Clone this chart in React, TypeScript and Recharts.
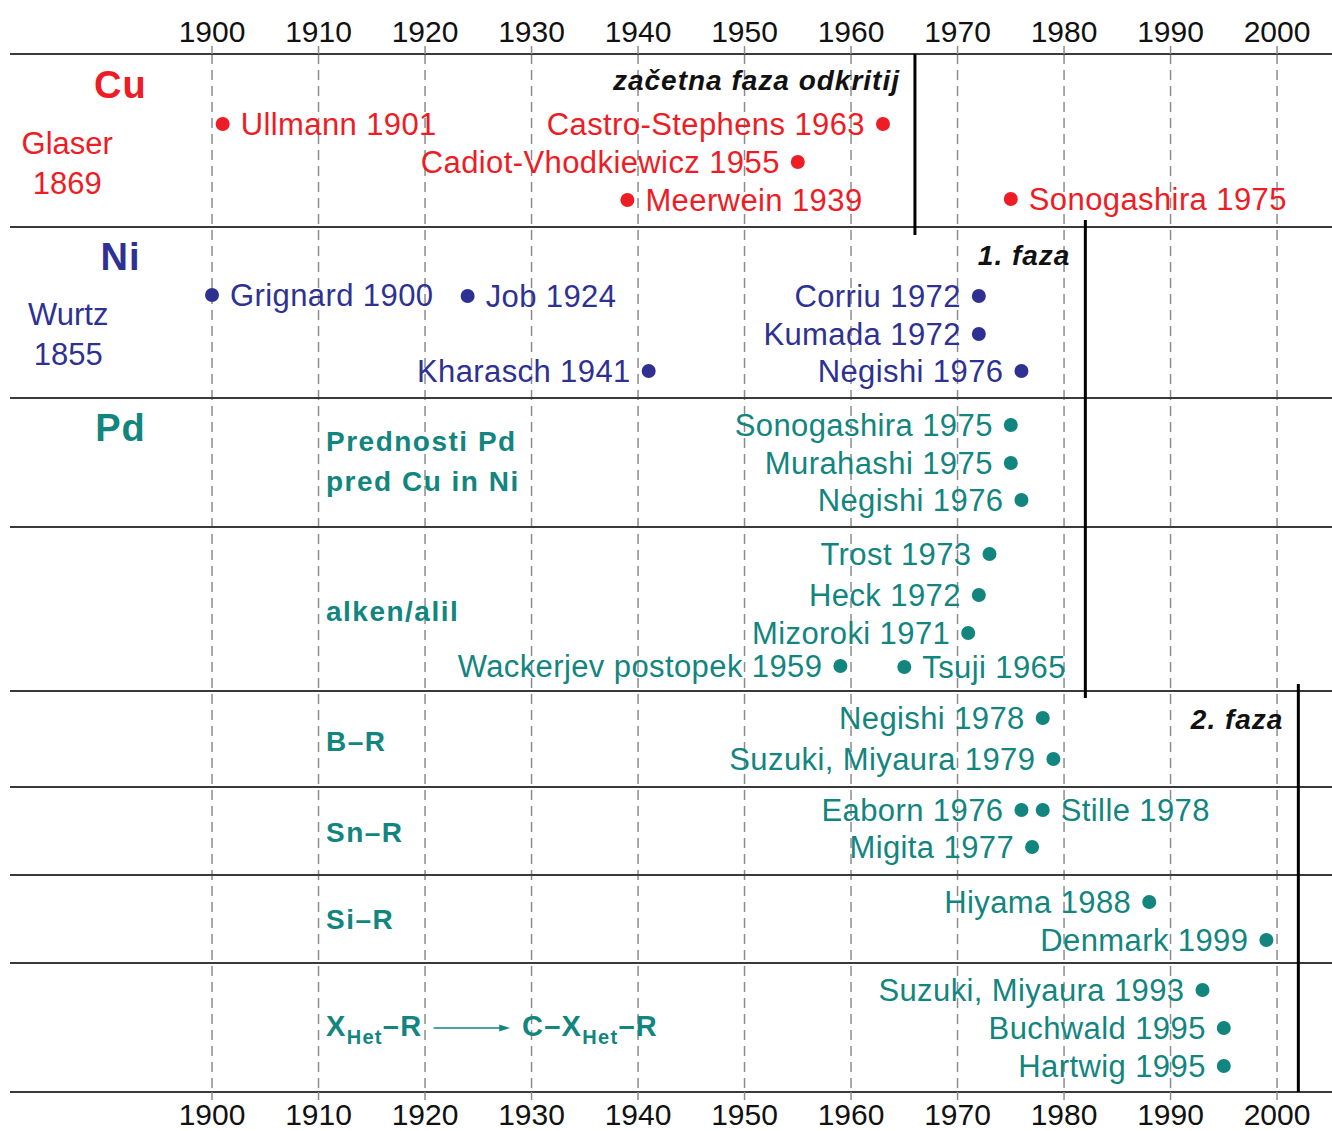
import React from 'react';
import { ScatterChart, Scatter, XAxis, YAxis, CartesianGrid, ReferenceLine } from 'recharts';

const FONT = '"Liberation Sans", Arial, Helvetica, sans-serif';
const RED = '#ee1c25';
const BLUE = '#2e3192';
const TEAL = '#12857f';
const INK = '#111111';

const YEAR_TICKS = [1900, 1910, 1920, 1930, 1940, 1950, 1960, 1970, 1980, 1990, 2000];
const X_DOMAIN = [1881.03, 2005.16];
const LANE_DOMAIN = [0, 1038];

// horizontal row separators (lane positions)
const ROW_BOUNDARIES = [0, 173, 344, 473, 637, 733, 821, 909, 1038];

// phase dividers: year, lane from, lane to
const PHASE_LINES = [
  { year: 1966, from: 0, to: 181 },
  { year: 1982, from: 166, to: 644 },
  { year: 2002, from: 630, to: 1038 },
];

type Side = 'left' | 'right';
type Ev = { name: string; year: number; lane: number; side: Side };

const cuEvents: Ev[] = [
  { name: 'Ullmann', year: 1901, lane: 70, side: 'right' },
  { name: 'Castro-Stephens', year: 1963, lane: 70, side: 'left' },
  { name: 'Cadiot-Vhodkiewicz', year: 1955, lane: 108, side: 'left' },
  { name: 'Meerwein', year: 1939, lane: 146, side: 'right' },
  { name: 'Sonogashira', year: 1975, lane: 145, side: 'right' },
];

const niEvents: Ev[] = [
  { name: 'Grignard', year: 1900, lane: 241, side: 'right' },
  { name: 'Job', year: 1924, lane: 242, side: 'right' },
  { name: 'Corriu', year: 1972, lane: 242, side: 'left' },
  { name: 'Kumada', year: 1972, lane: 280, side: 'left' },
  { name: 'Kharasch', year: 1941, lane: 317, side: 'left' },
  { name: 'Negishi', year: 1976, lane: 317, side: 'left' },
];

const pdEvents: Ev[] = [
  { name: 'Sonogashira', year: 1975, lane: 371, side: 'left' },
  { name: 'Murahashi', year: 1975, lane: 409, side: 'left' },
  { name: 'Negishi', year: 1976, lane: 446, side: 'left' },
];

const alkeneEvents: Ev[] = [
  { name: 'Trost', year: 1973, lane: 500, side: 'left' },
  { name: 'Heck', year: 1972, lane: 541, side: 'left' },
  { name: 'Mizoroki', year: 1971, lane: 579, side: 'left' },
  { name: 'Wackerjev postopek', year: 1959, lane: 612, side: 'left' },
  { name: 'Tsuji', year: 1965, lane: 613, side: 'right' },
];

const boronEvents: Ev[] = [
  { name: 'Negishi', year: 1978, lane: 664, side: 'left' },
  { name: 'Suzuki, Miyaura', year: 1979, lane: 705, side: 'left' },
];

const tinEvents: Ev[] = [
  { name: 'Eaborn', year: 1976, lane: 756, side: 'left' },
  { name: 'Stille', year: 1978, lane: 756, side: 'right' },
  { name: 'Migita', year: 1977, lane: 793, side: 'left' },
];

const siliconEvents: Ev[] = [
  { name: 'Hiyama', year: 1988, lane: 848, side: 'left' },
  { name: 'Denmark', year: 1999, lane: 886, side: 'left' },
];

const heteroEvents: Ev[] = [
  { name: 'Suzuki, Miyaura', year: 1993, lane: 936, side: 'left' },
  { name: 'Buchwald', year: 1995, lane: 974, side: 'left' },
  { name: 'Hartwig', year: 1995, lane: 1012, side: 'left' },
];

type Note = {
  text: string;
  x: number;
  y: number;
  color: string;
  size: number;
  anchor: 'start' | 'middle' | 'end';
  weight?: string;
  italic?: boolean;
  spacing?: number;
};

const rowNotes: Note[] = [
  { text: 'Cu', x: 1891.4, y: 30, color: RED, size: 38, anchor: 'middle', weight: 'bold', spacing: 1 },
  { text: 'Glaser', x: 1886.4, y: 89, color: RED, size: 31, anchor: 'middle' },
  { text: '1869', x: 1886.4, y: 129, color: RED, size: 31, anchor: 'middle' },
  { text: 'Ni', x: 1891.4, y: 202, color: BLUE, size: 38, anchor: 'middle', weight: 'bold', spacing: 1 },
  { text: 'Wurtz', x: 1886.5, y: 260, color: BLUE, size: 31, anchor: 'middle' },
  { text: '1855', x: 1886.5, y: 300, color: BLUE, size: 31, anchor: 'middle' },
  { text: 'Pd', x: 1891.4, y: 373, color: TEAL, size: 38, anchor: 'middle', weight: 'bold', spacing: 1 },
  { text: 'Prednosti Pd', x: 1910.7, y: 387, color: TEAL, size: 28, anchor: 'start', weight: 'bold', spacing: 1.5 },
  { text: 'pred Cu in Ni', x: 1910.7, y: 427, color: TEAL, size: 28, anchor: 'start', weight: 'bold', spacing: 1.5 },
  { text: 'alken/alil', x: 1910.7, y: 557, color: TEAL, size: 28, anchor: 'start', weight: 'bold', spacing: 1.5 },
  { text: 'B–R', x: 1910.7, y: 687, color: TEAL, size: 28, anchor: 'start', weight: 'bold', spacing: 1.5 },
  { text: 'Sn–R', x: 1910.7, y: 778, color: TEAL, size: 28, anchor: 'start', weight: 'bold', spacing: 1.5 },
  { text: 'Si–R', x: 1910.7, y: 865, color: TEAL, size: 28, anchor: 'start', weight: 'bold', spacing: 1.5 },
  { text: 'začetna faza odkritij', x: 1964.6, y: 26, color: INK, size: 28, anchor: 'end', weight: 'bold', italic: true, spacing: 1 },
  { text: '1. faza', x: 1980.6, y: 201, color: INK, size: 28, anchor: 'end', weight: 'bold', italic: true, spacing: 1 },
  { text: '2. faza', x: 2000.6, y: 665, color: INK, size: 28, anchor: 'end', weight: 'bold', italic: true, spacing: 1 },
];

// formula: X_Het–R  →  C–X_Het–R
const formulaParts = [
  { pre: 'X', sub: 'Het', post: '–R', x: 1910.7, y: 972 },
  { pre: 'C–X', sub: 'Het', post: '–R', x: 1929.1, y: 972 },
];
const ARROW = { from: 1920.8, to: 1928.0, lane: 974 };

const toPoints = (evs: Ev[]) => evs.map((e) => ({ x: e.year, y: e.lane, name: e.name, year: e.year, side: e.side }));

const makeEventShape = (color: string) => (props: any) => {
  const { cx, cy, payload } = props;
  if (cx == null || cy == null) return <g />;
  const left = payload.side === 'left';
  return (
    <g>
      <circle cx={cx} cy={cy} r={7} fill={color} />
      <text
        x={left ? cx - 18 : cx + 18}
        y={cy + 11}
        textAnchor={left ? 'end' : 'start'}
        fill={color}
        fontSize={31}
        letterSpacing={0.4}
        fontFamily={FONT}
      >
        {`${payload.name} ${payload.year}`}
      </text>
    </g>
  );
};

const NoteShape = (props: any) => {
  const { cx, cy, payload } = props;
  if (cx == null || cy == null) return <g />;
  const n: Note = payload;
  return (
    <text
      x={cx}
      y={cy + n.size * 0.358}
      textAnchor={n.anchor}
      fill={n.color}
      fontSize={n.size}
      fontWeight={n.weight || 'normal'}
      fontStyle={n.italic ? 'italic' : 'normal'}
      letterSpacing={n.spacing || 0}
      fontFamily={FONT}
    >
      {n.text}
    </text>
  );
};

const FormulaShape = (props: any) => {
  const { cx, cy, payload } = props;
  if (cx == null || cy == null) return <g />;
  return (
    <text x={cx} y={cy + 10} fill={TEAL} fontSize={29} fontWeight="bold" fontFamily={FONT} letterSpacing={1.3}>
      <tspan>{payload.pre}</tspan>
      <tspan fontSize={20} dy={8}>{payload.sub}</tspan>
      <tspan dy={-8}>{payload.post}</tspan>
    </text>
  );
};

const ArrowShape = (props: any) => {
  const { x1, y1, x2, y2 } = props;
  if (x1 == null) return <g />;
  return (
    <g>
      <line x1={x1} y1={y1} x2={x2 - 8} y2={y2} stroke={TEAL} strokeWidth={1.6} />
      <polygon points={`${x2},${y2} ${x2 - 11},${y2 - 3.5} ${x2 - 11},${y2 + 3.5}`} fill={TEAL} />
    </g>
  );
};

const TopTick = (props: any) => {
  const { x, y, payload } = props;
  return (
    <text x={x} y={y - 4} textAnchor="middle" fill={INK} fontSize={30} fontFamily={FONT}>
      {payload.value}
    </text>
  );
};

const BottomTick = (props: any) => {
  const { x, y, payload } = props;
  return (
    <text x={x} y={y + 25} textAnchor="middle" fill={INK} fontSize={30} fontFamily={FONT}>
      {payload.value}
    </text>
  );
};

const eventGroups = [
  { id: 'cu', data: toPoints(cuEvents), color: RED },
  { id: 'ni', data: toPoints(niEvents), color: BLUE },
  { id: 'pd', data: toPoints(pdEvents), color: TEAL },
  { id: 'alkene', data: toPoints(alkeneEvents), color: TEAL },
  { id: 'boron', data: toPoints(boronEvents), color: TEAL },
  { id: 'tin', data: toPoints(tinEvents), color: TEAL },
  { id: 'silicon', data: toPoints(siliconEvents), color: TEAL },
  { id: 'hetero', data: toPoints(heteroEvents), color: TEAL },
];

export default function App() {
  return (
    <div style={{ position: 'absolute', left: 0, top: 0, width: 1332, height: 1131, background: '#fff' }}>
      <ScatterChart width={1332} height={1131} margin={{ top: 0, right: 0, bottom: 0, left: 10 }}>
        <CartesianGrid
          xAxisId="top"
          vertical
          horizontal={false}
          stroke="#8c8c8c"
          strokeWidth={1.5}
          strokeDasharray="10 6"
          syncWithTicks
        />
        <XAxis
          xAxisId="top"
          orientation="top"
          type="number"
          dataKey="x"
          domain={X_DOMAIN}
          ticks={YEAR_TICKS}
          allowDataOverflow
          height={54}
          axisLine={false}
          tickLine={{ stroke: '#8c8c8c', strokeWidth: 1.5 }}
          tickSize={8}
          tickMargin={0}
          tick={<TopTick />}
          interval={0}
        />
        <XAxis
          xAxisId="bottom"
          orientation="bottom"
          type="number"
          dataKey="x"
          domain={X_DOMAIN}
          ticks={YEAR_TICKS}
          allowDataOverflow
          height={39}
          axisLine={false}
          tickLine={{ stroke: '#8c8c8c', strokeWidth: 1.5 }}
          tickSize={8}
          tickMargin={0}
          tick={<BottomTick />}
          interval={0}
        />
        <YAxis type="number" dataKey="y" domain={LANE_DOMAIN} reversed hide allowDataOverflow />

        {ROW_BOUNDARIES.map((b) => (
          <ReferenceLine key={'row' + b} xAxisId="top" y={b} stroke="#3a3a3a" strokeWidth={2} ifOverflow="visible" />
        ))}
        {PHASE_LINES.map((p) => (
          <ReferenceLine
            key={'phase' + p.year}
            xAxisId="top"
            segment={[{ x: p.year, y: p.from }, { x: p.year, y: p.to }]}
            stroke="#000"
            strokeWidth={3}
            ifOverflow="visible"
          />
        ))}
        <ReferenceLine
          xAxisId="top"
          segment={[{ x: ARROW.from, y: ARROW.lane }, { x: ARROW.to, y: ARROW.lane }]}
          shape={<ArrowShape />}
          ifOverflow="visible"
        />

        <Scatter xAxisId="top" data={rowNotes} shape={NoteShape} isAnimationActive={false} />
        <Scatter xAxisId="top" data={formulaParts} shape={FormulaShape} isAnimationActive={false} />
        {eventGroups.map((g) => (
          <Scatter key={g.id} xAxisId="top" data={g.data} shape={makeEventShape(g.color)} isAnimationActive={false} />
        ))}
      </ScatterChart>
    </div>
  );
}
